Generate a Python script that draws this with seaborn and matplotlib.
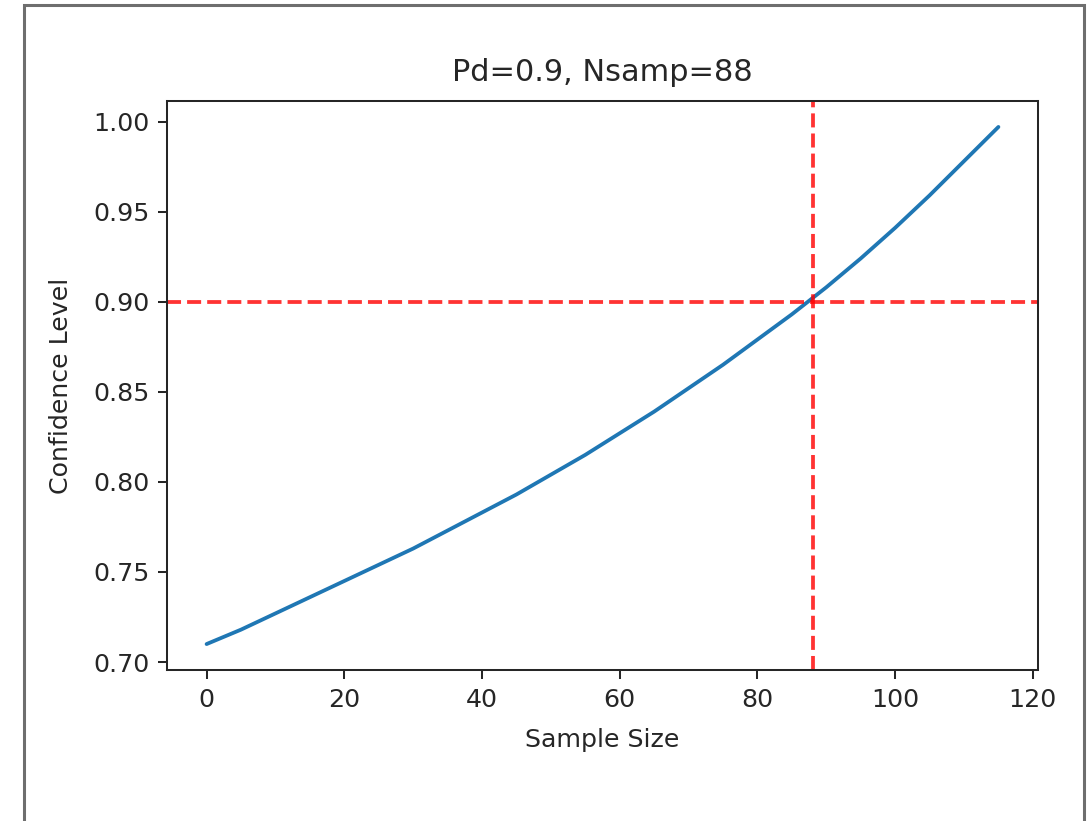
import matplotlib
matplotlib.use("Agg")
import matplotlib.pyplot as plt
from matplotlib.patches import Rectangle
import seaborn as sns
import pandas as pd

# Confidence level as a function of sample size
sample_size = [0, 5, 10, 15, 20, 25, 30, 35, 40, 45, 50, 55,
               60, 65, 70, 75, 80, 85, 90, 95, 100, 105, 110, 115]
confidence = [0.710, 0.718, 0.727, 0.736, 0.745, 0.754, 0.763, 0.773,
              0.783, 0.793, 0.804, 0.815, 0.827, 0.839, 0.852, 0.865,
              0.879, 0.893, 0.908, 0.924, 0.941, 0.959, 0.978, 0.997]
pd_target = 0.9
n_samp = 88
title = f"Pd={pd_target}, Nsamp={n_samp}"

s = 1.82  # scale relative to matplotlib defaults
sns.set_theme(style="ticks", rc={
    "axes.linewidth": 0.8 * s,
    "xtick.major.width": 0.8 * s,
    "ytick.major.width": 0.8 * s,
    "xtick.major.size": 3.5 * s,
    "ytick.major.size": 3.5 * s,
    "xtick.major.pad": 3.5 * s,
    "ytick.major.pad": 3.5 * s,
    "xtick.labelsize": 10 * s,
    "ytick.labelsize": 10 * s,
    "axes.labelsize": 10 * s,
    "axes.titlesize": 12 * s,
    "axes.titlepad": 6 * s,
    "axes.labelpad": 4 * s,
    "lines.linewidth": 1.5 * s,
})
plt.rcParams["font.family"] = ["DejaVu Sans"]

df = pd.DataFrame({"Sample Size": sample_size, "Confidence Level": confidence})

fig = plt.figure(figsize=(10.92, 8.21), dpi=100)
ax = fig.add_axes([167 / 1092, 1 - 670 / 821, (1038 - 167) / 1092, (670 - 101) / 821])

sns.lineplot(data=df, x="Sample Size", y="Confidence Level", ax=ax,
             color="#1f77b4", linewidth=1.5 * s)
ax.axhline(pd_target, color="red", alpha=0.8, linestyle="--", linewidth=1.5 * s)
ax.axvline(n_samp, color="red", alpha=0.8, linestyle="--", linewidth=1.5 * s)

ax.set_xticks([0, 20, 40, 60, 80, 100, 120])
ax.set_yticks([0.70, 0.75, 0.80, 0.85, 0.90, 0.95, 1.00])
ax.set_xlim(-5.75, 120.75)
ax.set_ylim(0.6956, 1.0114)
ax.set_title(title, pad=8 * s)
ax.set_xlabel("Sample Size", labelpad=6.5 * s)
ax.set_ylabel("Confidence Level", labelpad=8 * s)

# output cell frame
fig.patches.append(Rectangle((24 / 1092, -0.05), (1084 - 24) / 1092, 1.05 - 5 / 821,
                             transform=fig.transFigure, fill=False,
                             edgecolor="#6e6e6e", linewidth=2.2))

fig.savefig("out.png", dpi=100)
